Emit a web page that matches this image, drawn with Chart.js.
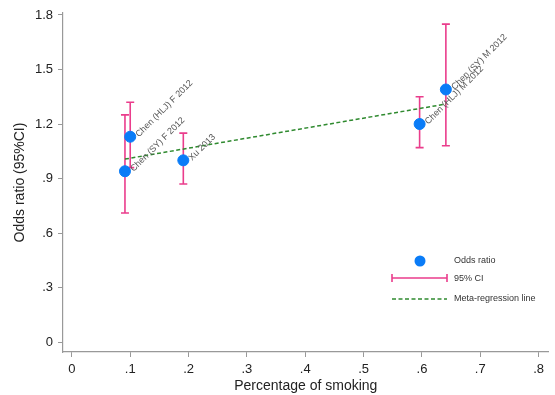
<!DOCTYPE html>
<html>
<head>
<meta charset="utf-8">
<script src="https://cdn.jsdelivr.net/npm/chart.js@4"></script>
<style>
html,body{margin:0;padding:0;background:#fff;}
canvas{display:block;}
</style>
</head>
<body>
<canvas id="c" width="555" height="395"></canvas>
<script>
const studies = ['Chen (SY) F 2012', 'Chen (HLJ) F 2012', 'Xu 2013', 'Chen (HLJ) M 2012', 'Chen (SY) M 2012'];
const smoking = [0.091, 0.100, 0.191, 0.596, 0.641];
const oddsRatio = [0.94, 1.13, 1.00, 1.20, 1.39];
const ciLower = [0.71, 0.96, 0.87, 1.07, 1.08];
const ciUpper = [1.25, 1.32, 1.15, 1.35, 1.75];
const regX = [0.091, 0.641];
const regY = [1.007, 1.31];
const xTicks = [0, 0.1, 0.2, 0.3, 0.4, 0.5, 0.6, 0.7, 0.8];
const yTicks = [0, 0.3, 0.6, 0.9, 1.2, 1.5, 1.8];
const legendLabels = ['Odds ratio', '95% CI', 'Meta-regression line'];

const BLUE = '#0a7cf7';
const PINK = '#ea3d8c';
const GREEN = '#2f8a2f';
const FONT = 'Liberation Sans, Arial, sans-serif';

function fmt(v) {
  if (v === 0) return '0';
  let s = (Math.round(v * 10) / 10).toString();
  if (s.startsWith('0.')) s = s.slice(1);
  return s;
}

const errorBars = {
  id: 'errorBars',
  beforeDatasetsDraw(chart) {
    const ctx = chart.ctx, xs = chart.scales.x, ys = chart.scales.y;
    ctx.save();
    ctx.strokeStyle = PINK;
    ctx.lineWidth = 1.6;
    for (let i = 0; i < smoking.length; i++) {
      const px = xs.getPixelForValue(smoking[i]);
      const top = ys.getPixelForValue(ciUpper[i]);
      const bot = ys.getPixelForValue(ciLower[i]);
      ctx.beginPath();
      ctx.moveTo(px, top); ctx.lineTo(px, bot);
      ctx.moveTo(px - 4, top); ctx.lineTo(px + 4, top);
      ctx.moveTo(px - 4, bot); ctx.lineTo(px + 4, bot);
      ctx.stroke();
    }
    ctx.restore();
  }
};

const pointLabels = {
  id: 'pointLabels',
  afterDatasetsDraw(chart) {
    const ctx = chart.ctx, xs = chart.scales.x, ys = chart.scales.y;
    ctx.save();
    ctx.fillStyle = '#555';
    ctx.font = '9px ' + FONT;
    ctx.textAlign = 'left';
    ctx.textBaseline = 'middle';
    for (let i = 0; i < smoking.length; i++) {
      const px = xs.getPixelForValue(smoking[i]);
      const py = ys.getPixelForValue(oddsRatio[i]);
      ctx.save();
      ctx.translate(px + 7, py - 1);
      ctx.rotate(-Math.PI / 4);
      ctx.fillText(studies[i], 0, 0);
      ctx.restore();
    }
    // legend
    ctx.font = '9px ' + FONT;
    ctx.fillStyle = '#333';
    const lx = 454;
    ctx.fillText(legendLabels[0], lx, 261);
    ctx.fillText(legendLabels[1], lx, 279);
    ctx.fillText(legendLabels[2], lx, 299);
    ctx.fillStyle = BLUE;
    ctx.beginPath(); ctx.arc(420, 261, 5.5, 0, Math.PI * 2); ctx.fill();
    ctx.strokeStyle = PINK; ctx.lineWidth = 1.6;
    ctx.beginPath();
    ctx.moveTo(392, 278); ctx.lineTo(447, 278);
    ctx.moveTo(392, 274); ctx.lineTo(392, 282);
    ctx.moveTo(447, 274); ctx.lineTo(447, 282);
    ctx.stroke();
    ctx.strokeStyle = GREEN; ctx.lineWidth = 1.5; ctx.setLineDash([4, 2.5]);
    ctx.beginPath(); ctx.moveTo(392, 299); ctx.lineTo(447, 299); ctx.stroke();
    ctx.restore();
  }
};

new Chart(document.getElementById('c'), {
  type: 'scatter',
  data: {
    datasets: [
      {
        type: 'line',
        label: 'Meta-regression line',
        data: regX.map((x, i) => ({ x: x, y: regY[i] })),
        borderColor: GREEN,
        borderWidth: 1.5,
        borderDash: [4, 2.5],
        pointRadius: 0,
        fill: false,
        order: 2
      },
      {
        label: 'Odds ratio',
        data: smoking.map((x, i) => ({ x: x, y: oddsRatio[i] })),
        backgroundColor: BLUE,
        borderColor: BLUE,
        pointRadius: 5.5,
        pointHoverRadius: 5.5,
        order: 1
      }
    ]
  },
  options: {
    responsive: false,
    animation: false,
    devicePixelRatio: 1,
    layout: { padding: { top: 13, right: 0, left: 0, bottom: 0 } },
    plugins: { legend: { display: false }, tooltip: { enabled: false } },
    scales: {
      x: {
        type: 'linear',
        min: -0.0152,
        max: 0.8169,
        afterBuildTicks: s => { s.ticks = xTicks.map(v => ({ value: v })); },
        afterFit: s => { s.height = 43; },
        grid: { display: true, drawOnChartArea: false, drawTicks: true, tickLength: 5, color: '#999', lineWidth: 1 },
        border: { display: true, color: '#999', width: 1.2 },
        ticks: { callback: v => fmt(v), color: '#222', font: { family: FONT, size: 13 }, padding: 5, maxRotation: 0, autoSkip: false },
        title: { display: true, text: 'Percentage of smoking', color: '#222', font: { family: FONT, size: 14 }, padding: { top: -6, bottom: 0 } }
      },
      y: {
        type: 'linear',
        min: -0.055,
        max: 1.811,
        afterBuildTicks: s => { s.ticks = yTicks.map(v => ({ value: v })); },
        afterFit: s => { s.width = 63; },
        grid: { display: true, drawOnChartArea: false, drawTicks: true, tickLength: 5, color: '#999', lineWidth: 1 },
        border: { display: true, color: '#999', width: 1.2 },
        ticks: { callback: v => fmt(v), color: '#222', font: { family: FONT, size: 13 }, padding: 5, autoSkip: false },
        title: { display: true, text: 'Odds ratio (95%CI)', color: '#222', font: { family: FONT, size: 14 }, padding: { top: 12, bottom: 0 } }
      }
    }
  },
  plugins: [errorBars, pointLabels]
});
</script>
</body>
</html>
